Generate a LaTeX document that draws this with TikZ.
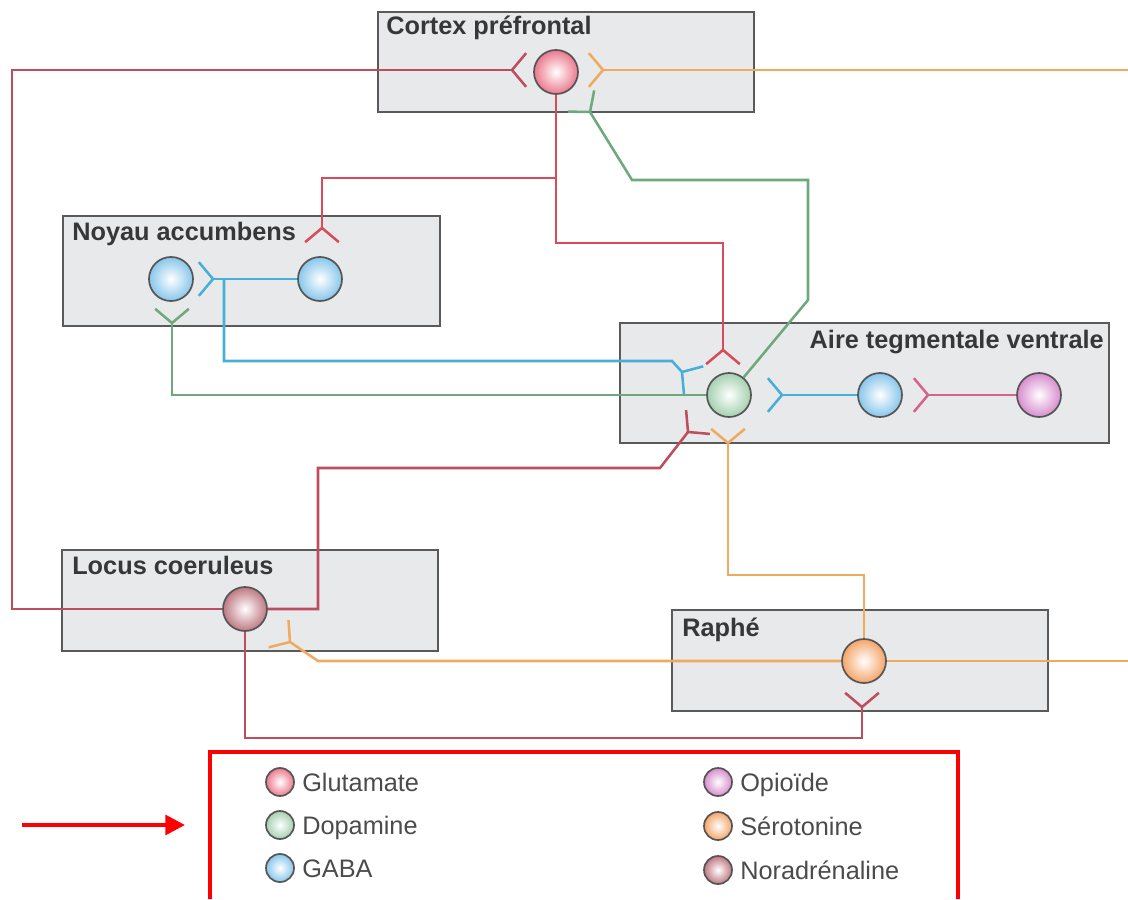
\documentclass[tikz,border=0pt]{standalone}
\usepackage{fontspec}
\setmainfont{Liberation Sans}
\usetikzlibrary{arrows.meta}

\definecolor{zonefill}{RGB}{232,233,235}
\definecolor{zonedraw}{RGB}{90,90,90}
\definecolor{neurodraw}{RGB}{85,85,85}
\definecolor{titretxt}{RGB}{55,55,55}
\definecolor{legtxt}{RGB}{75,75,75}
\definecolor{glu}{RGB}{215,75,90}
\definecolor{glufill}{RGB}{236,120,140}
\definecolor{nora}{RGB}{190,78,95}
\definecolor{norafill}{RGB}{190,120,130}
\definecolor{dopa}{RGB}{110,168,125}
\definecolor{dopafill}{RGB}{165,208,176}
\definecolor{gaba}{RGB}{70,175,215}
\definecolor{gabafill}{RGB}{135,198,235}
\definecolor{opio}{RGB}{212,100,140}
\definecolor{opiofill}{RGB}{215,140,205}
\definecolor{sero}{RGB}{240,170,95}
\definecolor{serofill}{RGB}{245,165,105}

\tikzset{
    zone/.style={fill=zonefill, draw=zonedraw, line width=1.3pt},
    titre/.style={font=\fontsize{18}{20}\selectfont\bfseries, text=titretxt, inner sep=0pt},
    axone/.style={line width=1.8pt},
    neurone/.style={circle, draw=neurodraw, line width=1.2pt, minimum size=1.1cm, inner sep=0pt, inner color=white, outer color=#1},
    legende/.style={font=\fontsize{18}{20}\selectfont, text=legtxt, anchor=base west, inner sep=0pt},
}

% terminaison : couleur, pointe, direction vers la cible
\newcommand{\synapse}[3]{\draw[axone, #1] (#2) -- ++({#3+50}:22) (#2) -- ++({#3-50}:22);}

\begin{document}
\begin{tikzpicture}[x=0.025cm, y=-0.025cm]
    \useasboundingbox (0,0) rectangle (1128,899);

    %%%%%%%%% Zones %%%%%%%%%%
    \draw[zone] (378,12) rectangle (754,112);
    \draw[zone] (63,216) rectangle (440,326);
    \draw[zone] (620,323) rectangle (1109,443);
    \draw[zone] (62,550) rectangle (438,651);
    \draw[zone] (672,610) rectangle (1048,711);

    \node[titre, anchor=north west] (tcp) at (386,16) {Cortex préfrontal};
    \node[titre, anchor=north west] (tna) at (72,222) {Noyau accumbens};
    \node[titre, anchor=north east] (tatv) at (1104,330) {Aire tegmentale ventrale};
    \node[titre, anchor=north west] (tlc) at (72,556) {Locus coeruleus};
    \node[titre, anchor=north west] (tra) at (682,618) {Raphé};

    %%%%%%%%% Neurones %%%%%%%%%
    \node[neurone=glufill] (cp) at (556,72) {};
    \node[neurone=gabafill] (na1) at (171,279) {};
    \node[neurone=gabafill] (na2) at (320,279) {};
    \node[neurone=dopafill] (da) at (729,395) {};
    \node[neurone=gabafill] (gaba) at (880,395) {};
    \node[neurone=opiofill] (opio) at (1039,395) {};
    \node[neurone=norafill] (lc) at (245,609) {};
    \node[neurone=serofill] (ra) at (864,661) {};

    %%%%%%%%% Terminaisons %%%%%%%%%
    \coordinate (scpl) at (512,70);
    \coordinate (scpr) at (603,70);
    \coordinate (scpd) at (590,112);
    \coordinate (snag) at (322,228);
    \coordinate (snab) at (213,279);
    \coordinate (snad) at (172,323);
    \coordinate (satvg) at (723,350);
    \coordinate (satvb) at (682,372);
    \coordinate (satvn) at (688,432);
    \coordinate (satvs) at (728,443);
    \coordinate (sgaba) at (782,395);
    \coordinate (sopio) at (928,395);
    \coordinate (slc) at (290,642);
    \coordinate (sra) at (862,707);
    \coordinate (nab) at (224,279);

    %%%%%%%%% Glutamate %%%%%%%%%
    \draw[axone, glu] (cp.south) |- (322,178) -- (snag);
    \draw[axone, glu] (cp.south) |- (723,243) -- (satvg);
    \synapse{glu}{snag}{90}
    \synapse{glu}{satvg}{90}

    %%%%%%%%% Dopamine %%%%%%%%%
    \draw[axone, dopa] (da) -- (808,300) -- (808,180) -- (632,180) -- (scpd);
    \draw[axone, dopa] (da.west) -| (snad);
    \synapse{dopa}{scpd}{-129}
    \synapse{dopa}{snad}{-90}

    %%%%%%%%% GABA %%%%%%%%%
    \draw[axone, gaba] (na2) -- (snab);
    \draw[axone, gaba] (nab) |- (672,361) -- (satvb);
    \draw[axone, gaba] (gaba) -- (sgaba);
    \synapse{gaba}{snab}{180}
    \synapse{gaba}{satvb}{35}
    \synapse{gaba}{sgaba}{180}

    %%%%%%%%% Opioide %%%%%%%%%
    \draw[axone, opio] (opio) -- (sopio);
    \synapse{opio}{sopio}{180}

    %%%%%%%%% Noradrenaline %%%%%%%%%
    \draw[axone, nora] (lc.west) -| (12,70) -- (scpl);
    \draw[axone, nora] (lc.east) -| (318,468) -- (660,468) -- (satvn);
    \draw[axone, nora] (lc.south) |- (862,738) -- (sra);
    \synapse{nora}{scpl}{0}
    \synapse{nora}{satvn}{-45}
    \synapse{nora}{sra}{-90}

    %%%%%%%%% Serotonine %%%%%%%%%
    \draw[axone, sero] (scpr) -- (1128,70);
    \draw[axone, sero] (ra.east) -- (1128,661);
    \draw[axone, sero] (ra.north) |- (728,575) -- (satvs);
    \draw[axone, sero] (ra.west) -- (318,661) -- (slc);
    \synapse{sero}{scpr}{180}
    \synapse{sero}{satvs}{-90}
    \synapse{sero}{slc}{-144}

    %%%%%%%%% Legende %%%%%%%%%
    \draw[red, line width=3pt] (210,899) |- (958,752) -- (958,899);
    \draw[red, line width=3pt, -{Triangle[length=14pt, width=14pt]}] (22,825) -- (185,825);
    \foreach \c/\t [count=\i] in {glufill/Glutamate, dopafill/Dopamine, gabafill/GABA} {
        \node[neurone=\c, minimum size=0.7cm] (leg\i) at (280,{782+43*(\i-1)}) {};
        \node[legende] (legt\i) at (302,{791+43*(\i-1)}) {\t};
    }
    \foreach \c/\t [count=\i] in {opiofill/Opioïde, serofill/Sérotonine, norafill/Noradrénaline} {
        \node[neurone=\c, minimum size=0.7cm] (legb\i) at (718,{782+44*(\i-1)}) {};
        \node[legende] (legbt\i) at (740,{791+44*(\i-1)}) {\t};
    }
\end{tikzpicture}
\end{document}
